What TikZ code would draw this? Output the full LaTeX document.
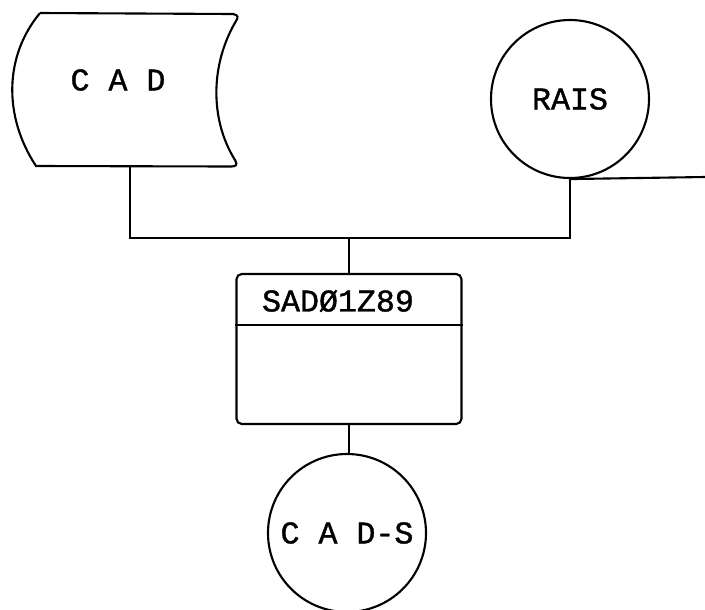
\documentclass[tikz,border=0pt]{standalone}
\usepackage{fontspec}
\setmonofont{Liberation Mono}[FakeBold=1.2]
\begin{document}
\begin{tikzpicture}[
    line/.style={draw, line width=1.2pt},
    txt/.style={font=\ttfamily\fontsize{18}{21}\selectfont, inner sep=0pt},
    tape/.style={circle, draw, line width=1.2pt, minimum size=3.16cm,
                 font=\ttfamily\fontsize{18}{21}\selectfont, inner sep=0pt},
    prog/.style={rectangle, draw, line width=1.2pt, rounded corners=3pt,
                 minimum width=4.5cm, minimum height=3cm}
]
    \useasboundingbox (0,0) rectangle (14.1,-12.2);

    % cartao / disco de entrada
    \node[txt] (cad) at (2.36,-1.6) {C A D};
    \draw[line] (0.8,-0.26) -- (4.66,-0.28)
        .. controls (4.78,-0.3) and (4.76,-0.36) .. (4.72,-0.42)
        .. controls (4.2,-1.3) and (4.2,-2.4) .. (4.7,-3.2)
        .. controls (4.76,-3.3) and (4.72,-3.33) .. (4.62,-3.33)
        -- (0.72,-3.32)
        .. controls (0.05,-2.3) and (0.1,-1.1) .. (0.8,-0.26);
    \coordinate (cadfoot) at (2.6,-3.32);

    % fita RAIS
    \node[tape] (rais) at (11.4,-1.98) {RAIS};
    \coordinate (tail) at (14.1,-3.54);
    \draw[line] (rais.south) -- (tail);

    % programa
    \node[prog] (sad) at (6.98,-6.98) {};
    \draw[line] (sad.west |- 0,-6.5) -- (sad.east |- 0,-6.5);
    \node[txt] (sadname) at (6.76,-6.02) {SAD\O{}1Z89};

    % fita de saida
    \node[tape] (cads) at (6.94,-10.66) {C A D-S};

    % ligacoes
    \coordinate (join) at (6.98,-4.76);
    \draw[line] (cadfoot) |- (join);
    \draw[line] (rais.south) |- (join);
    \draw[line] (join) -- (sad.north);
    \draw[line] (sad.south) -- (sad.south |- cads.north);
\end{tikzpicture}
\end{document}
